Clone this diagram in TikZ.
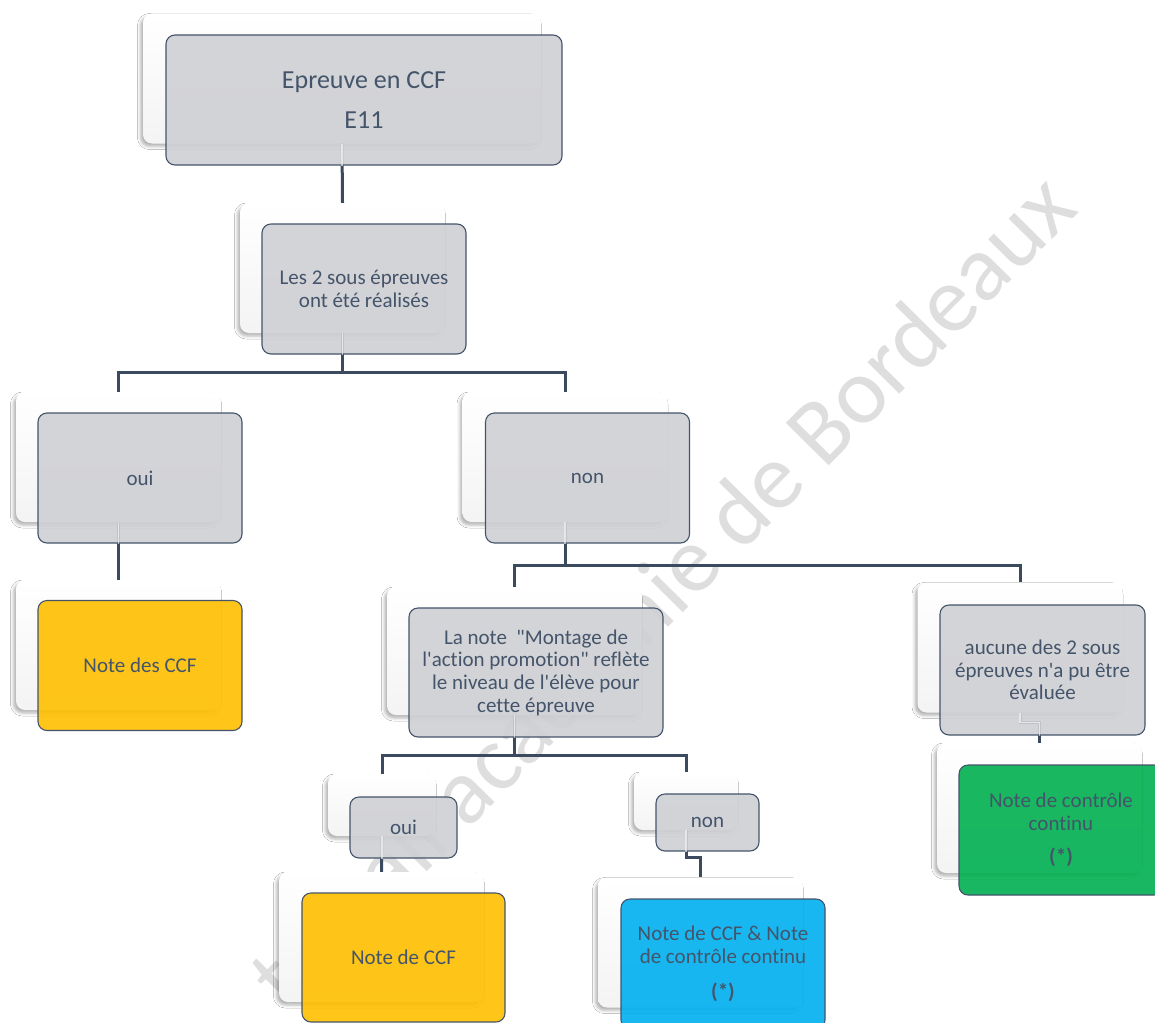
\documentclass[tikz,border=0pt]{standalone}
\usepackage{fontspec}
\setmainfont{Carlito}[Ligatures={TeXOff,NoCommon}]
\usetikzlibrary{shadows.blur,calc}

\definecolor{txt}{HTML}{44546A}
\definecolor{edge}{HTML}{44546A}
\definecolor{linkc}{HTML}{3B4A5E}
\definecolor{boxgray}{HTML}{CFD0D4}
\definecolor{cyellow}{HTML}{FFC000}
\definecolor{cblue}{HTML}{00B0F0}
\definecolor{cgreen}{HTML}{00B050}
\definecolor{wmark}{HTML}{DEDEDE}

\tikzset{
  card/.style={rounded corners=9pt, top color=white, bottom color=gray!9,
    minimum width=205pt, minimum height=130pt, inner sep=0pt,
    blur shadow={shadow xshift=-2.5pt, shadow yshift=-3pt,
      shadow blur radius=3pt, shadow opacity=30}},
  face/.style={draw=edge, line width=1.1pt, rounded corners=9pt,
    fill=boxgray, fill opacity=0.9, text opacity=1, text=txt,
    minimum width=204pt, minimum height=130pt, inner sep=2pt, align=center,
    font=\fontsize{21}{22.7}\selectfont},
  small/.style={minimum width=106pt, minimum height=60pt},
  yellowface/.style={face, fill=cyellow},
  blueface/.style={face, fill=cblue},
  greenface/.style={face, fill=cgreen},
  link/.style={draw=linkc, line width=3pt},
  trace/.style={draw=white, opacity=0.6, line width=1.4pt},
  wm/.style={text=wmark, font=\fontsize{94}{94}\selectfont, inner sep=0pt},
}

\begin{document}
\begin{tikzpicture}[x=1pt, y=-1pt]
  % page area
  \fill[white, use as bounding box] (0,0) rectangle (1155,1022);
  \clip (0,0) rectangle (1155,1022);

  % watermark
  \node[wm, rotate=45.3, anchor=base west] (wmk) at (287,1013) {travail académie de Bordeaux};

  % back cards
  \node[card, minimum width=398pt] (b1) at (342,78.5) {};
  \node[card] (b2) at (342.5,268) {};
  \node[card] (b3) at (118.5,457) {};
  \node[card] (b4) at (565,457) {};
  \node[card] (b5) at (118.5,645) {};
  \node[card, minimum width=255pt, minimum height=128pt] (b6) at (514.5,651) {};
  \node[card] (b7) at (1020,647.5) {};
  \node[card, minimum width=108pt, minimum height=62pt] (b8) at (382,805) {};
  \node[card, minimum width=104pt, minimum height=58pt] (b9) at (686,801) {};
  \node[card] (b10) at (381.5,937) {};
  \node[card] (b11) at (700.5,942.5) {};
  \node[card] (b12) at (1039.5,808) {};

  % connectors
  \draw[link] (b1.south) -- (b2.north);
  \draw[link] (b2.south) -- ++(0,39) -| (b3.north);
  \draw[link] (b2.south) -- ++(0,39) -| (b4.north);
  \draw[link] (b3.south) -- (b5.north);
  \draw[link] (b4.south) -- ++(0,43) -| (b6.north);
  \draw[link] (b4.south) -- ++(0,43) -| (b7.north);
  \draw[link] (b6.south) -- ++(0,40) -| (b8.north);
  \draw[link] (b6.south) -- ++(0,40) -| (b9.north);
  \draw[link] (b8.south) -- (b10.north);
  \draw[link] (b9.south) -- ++(0,27) -| (b11.north);
  \draw[link] (b7.south) -- ++(0,10) -| (b12.north);

  % front boxes
  \node[face, minimum width=396pt, font=\fontsize{26}{28}\selectfont] (f1) at (364,100)
    {Epreuve en CCF\\[12pt]E11};
  \node[face] (f2) at (364,289) {Les 2 sous épreuves\\ont été réalisés};
  \node[face] (f3) at (140,478) {oui};
  \node[face] (f4) at (587.5,478) {non};
  \node[yellowface] (f5) at (140,665.5) {Note des CCF};
  \node[face, minimum width=254pt, minimum height=129pt] (f6) at (536,672.5)
    {La note\ \ "Montage de\\l'action promotion" reflète\\le niveau de l'élève pour\\cette épreuve};
  \node[face, minimum width=205pt] (f7) at (1042.5,670)
    {aucune des 2 sous\\épreuves n'a pu être\\évaluée};
  \node[face, small, minimum width=107pt, minimum height=61pt] (f8) at (403.5,827.5) {oui};
  \node[face, small, minimum width=103pt, minimum height=57pt] (f9) at (707.5,822.5) {non};
  \node[yellowface, minimum width=203pt, minimum height=129pt] (f10) at (403.5,957.5) {Note de CCF};
  \node[blueface] (f11) at (723,964)
    {Note de CCF \& Note\\de contrôle continu\\[13pt]\textbf{(*)}};
  \node[greenface] (f12) at (1061,830)
    {Note de contrôle\\continu\\[11pt]\textbf{(*)}};

  % connector traces seen through the front boxes
  \draw[trace] (b1.south) -- (b1.south |- f1.south);
  \draw[trace] (b2.south) -- (b2.south |- f2.south);
  \draw[trace] (b3.south) -- (b3.south |- f3.south);
  \draw[trace] (b4.south) -- (b4.south |- f4.south);
  \draw[trace] (b6.south) -- (b6.south |- f6.south);
  \draw[trace] (b8.south) -- (b8.south |- f8.south);
  \draw[trace] (b9.south) -- (b9.south |- f9.south);
  \draw[trace] (b7.south) -- ++(0,10) -| (b12.north |- f7.south);
\end{tikzpicture}
\end{document}
